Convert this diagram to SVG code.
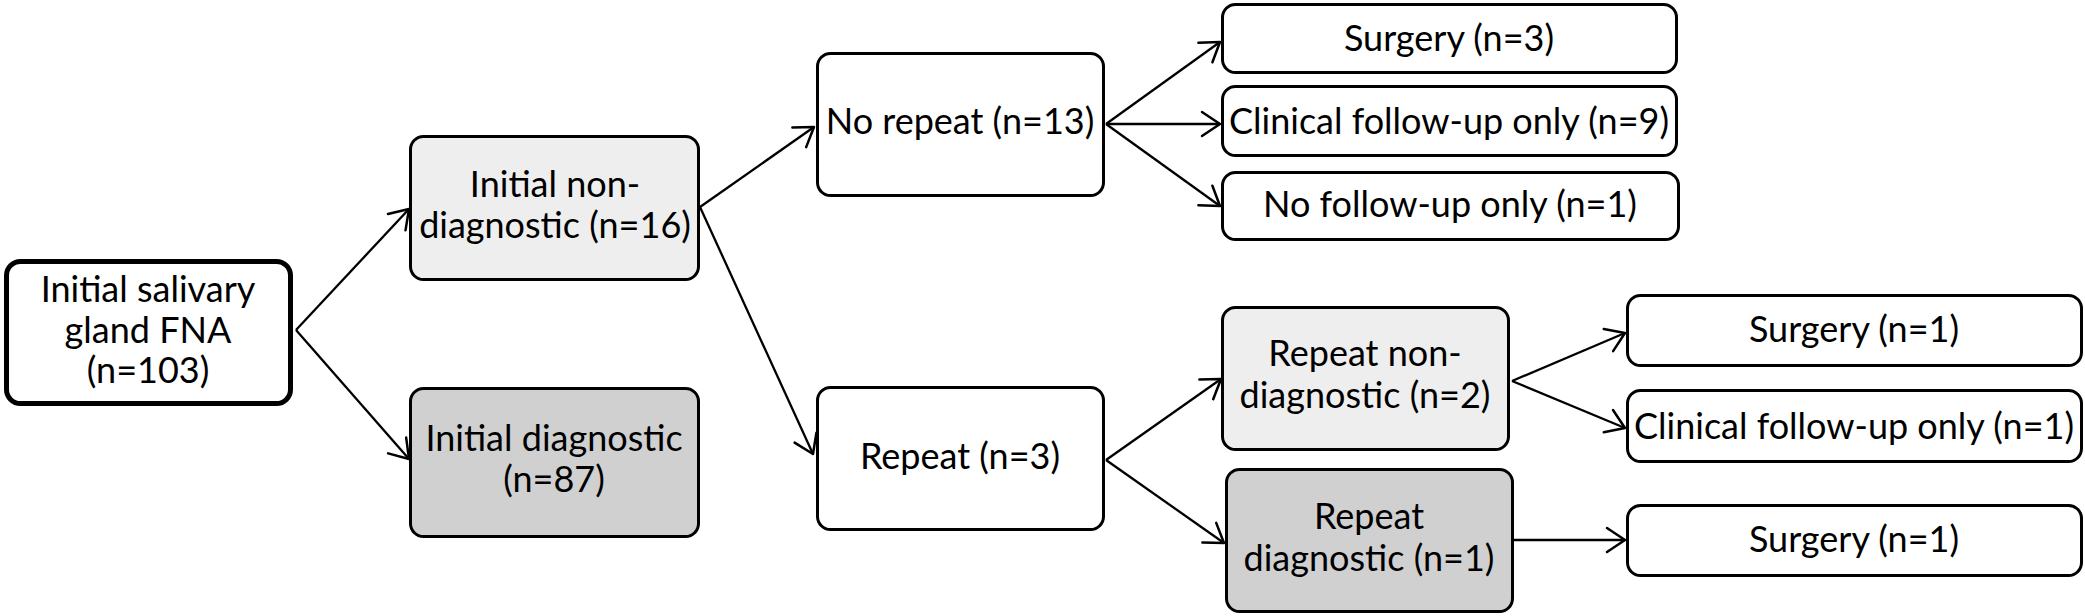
<svg xmlns="http://www.w3.org/2000/svg" width="2085" height="616" viewBox="0 0 2085 616">
<style>
.box{fill:#ffffff;stroke:#000000;stroke-width:3}
.root{stroke-width:5}
.light{fill:#eeeeee}
.dark{fill:#d0d0d0}
text{font-family:Lato,"Liberation Sans",sans-serif;font-size:36px;fill:#000000;text-anchor:middle}
.conn line{stroke:#000000;stroke-width:2.3;marker-end:url(#arr)}
</style>
<defs>
<marker id="arr" markerUnits="userSpaceOnUse" markerWidth="26" markerHeight="30" refX="22" refY="15" orient="auto" viewBox="0 0 26 30">
<path d="M4,3 L22,15 L4,27" fill="none" stroke="#000000" stroke-width="2.5" stroke-linecap="round" stroke-linejoin="round"/>
</marker>
</defs>
<rect width="2085" height="616" fill="#ffffff"/>
<g id="connectors" class="conn">
<line x1="296" y1="330" x2="409" y2="209"/>
<line x1="296" y1="330" x2="409" y2="459"/>
<line x1="700" y1="207" x2="814" y2="127"/>
<line x1="700" y1="207" x2="813" y2="454"/>
<line x1="1106" y1="124" x2="1220" y2="42"/>
<line x1="1106" y1="124" x2="1220" y2="124"/>
<line x1="1106" y1="124" x2="1220" y2="206"/>
<line x1="1106" y1="460" x2="1221" y2="379"/>
<line x1="1106" y1="460" x2="1224" y2="543"/>
<line x1="1512" y1="381" x2="1625" y2="333"/>
<line x1="1512" y1="381" x2="1625" y2="428"/>
<line x1="1514" y1="540" x2="1625" y2="540"/>
</g>
<g id="n-root"><rect class="box root" x="6.5" y="261.5" width="284" height="142" rx="14"/>
<text x="148" y="302">Initial salivary</text><text x="148" y="343">gland FNA</text><text x="148" y="383">(n=103)</text></g>
<g id="n-init-nondiag"><rect class="box light" x="410.5" y="136.5" width="288" height="143" rx="13"/>
<text x="555" y="197">Initial non-</text><text x="555" y="238">diagnostic (n=16)</text></g>
<g id="n-init-diag"><rect class="box dark" x="410.5" y="388.5" width="288" height="148" rx="13"/>
<text x="554" y="451">Initial diagnostic</text><text x="554" y="492">(n=87)</text></g>
<g id="n-norepeat"><rect class="box" x="817.5" y="53.5" width="286" height="142" rx="13"/>
<text x="960" y="134">No repeat (n=13)</text></g>
<g id="n-surg3"><rect class="box" x="1222.5" y="4.5" width="454" height="68" rx="13"/>
<text x="1449" y="51">Surgery (n=3)</text></g>
<g id="n-clin9"><rect class="box" x="1222.5" y="86.5" width="454" height="69" rx="13"/>
<text x="1449" y="134">Clinical follow-up only (n=9)</text></g>
<g id="n-nofu1"><rect class="box" x="1222.5" y="172.5" width="456" height="67" rx="13"/>
<text x="1450" y="217">No follow-up only (n=1)</text></g>
<g id="n-repeat"><rect class="box" x="817.5" y="387.5" width="286" height="142" rx="13"/>
<text x="960" y="469">Repeat (n=3)</text></g>
<g id="n-rep-nondiag"><rect class="box light" x="1222.5" y="307.5" width="286" height="142" rx="13"/>
<text x="1365" y="366">Repeat non-</text><text x="1365" y="408">diagnostic (n=2)</text></g>
<g id="n-rep-diag"><rect class="box dark" x="1226.5" y="469.5" width="286" height="142" rx="13"/>
<text x="1369" y="529">Repeat</text><text x="1369" y="571">diagnostic (n=1)</text></g>
<g id="n-surg1a"><rect class="box" x="1627.5" y="295.5" width="454" height="70" rx="13"/>
<text x="1854" y="342">Surgery (n=1)</text></g>
<g id="n-clin1"><rect class="box" x="1627.5" y="390.5" width="454" height="71" rx="13"/>
<text x="1854" y="439">Clinical follow-up only (n=1)</text></g>
<g id="n-surg1b"><rect class="box" x="1627.5" y="505.5" width="454" height="70" rx="13"/>
<text x="1854" y="552">Surgery (n=1)</text></g>
</svg>
